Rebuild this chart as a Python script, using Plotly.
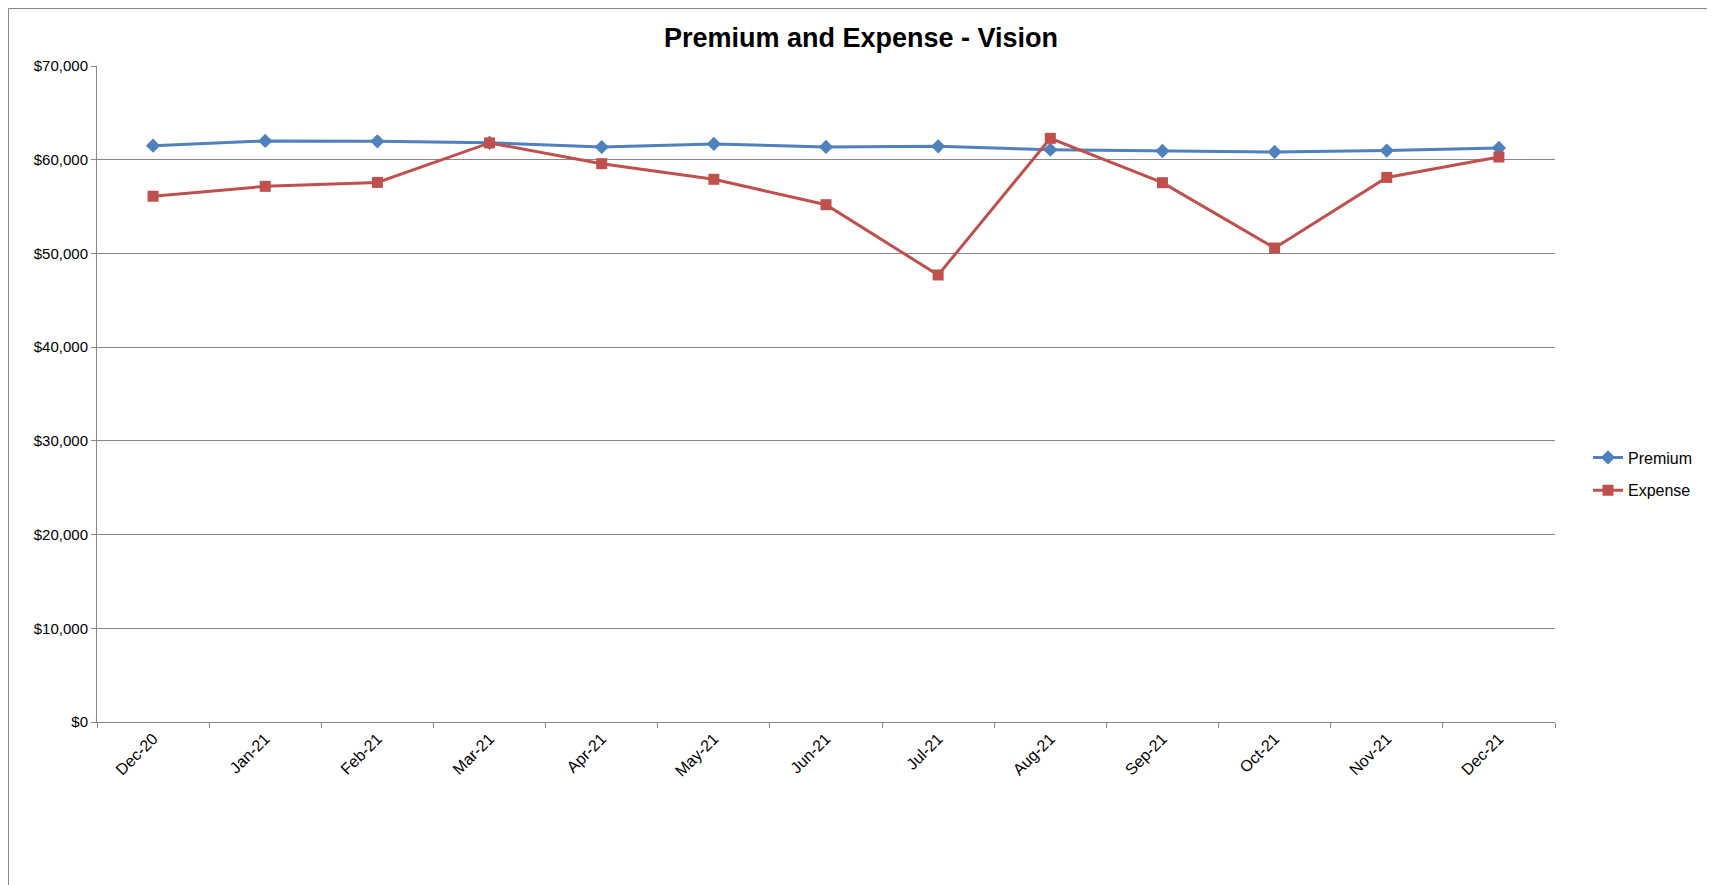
import plotly.graph_objects as go

months = ["Dec-20", "Jan-21", "Feb-21", "Mar-21", "Apr-21", "May-21", "Jun-21",
          "Jul-21", "Aug-21", "Sep-21", "Oct-21", "Nov-21", "Dec-21"]
premium = [61500, 62000, 61960, 61810, 61350, 61680, 61360, 61430, 61070, 60930, 60830, 60970, 61250]
expense = [56100, 57160, 57580, 61790, 59580, 57910, 55200, 47700, 62280, 57550, 50580, 58110, 60290]

FONT = "Liberation Sans Narrow, Liberation Sans, Arial, sans-serif"
W, H = 1715, 885
L, R, T, B = 89, 1547, 58, 714

fig = go.Figure()
fig.add_trace(go.Scatter(
    x=months, y=premium, name="Premium", mode="lines+markers",
    line=dict(color="#4F81BD", width=3),
    marker=dict(symbol="diamond", size=11, color="#4F81BD"),
    legendgroup="a"))
fig.add_trace(go.Scatter(
    x=months, y=expense, name="Expense", mode="lines+markers",
    line=dict(color="#C0504D", width=3),
    marker=dict(symbol="square", size=11, color="#C0504D"),
    legendgroup="b"))

fig.update_layout(
    width=W, height=H,
    margin=dict(l=L, r=W - R, t=T, b=H - B, autoexpand=False),
    paper_bgcolor="white", plot_bgcolor="white",
    font=dict(family=FONT, size=14, color="black"),
    title=dict(text="<b>Premium and Expense - Vision</b>", x=853 / W, xanchor="center",
               y=1 - 30 / H, yanchor="middle",
               font=dict(family=FONT, size=27, color="black")),
    showlegend=True,
    legend=dict(x=(1580 - L) / (R - L), xanchor="left", y=(B - 466) / (B - T), yanchor="middle",
                font=dict(size=16), tracegroupgap=9, bgcolor="rgba(0,0,0,0)"),
    xaxis=dict(type="category", range=[-0.5, len(months) - 0.5], autorange=False,
               showgrid=False, showline=True, linecolor="#868686", linewidth=1,
               ticks="outside", tickson="boundaries", ticklen=5, tickcolor="#868686",
               tickangle=-45, tickfont=dict(size=16), zeroline=False),
    yaxis=dict(range=[0, 70000], dtick=10000, tickprefix="$", tickformat=",",
               showgrid=True, gridcolor="#868686", gridwidth=1,
               showline=True, linecolor="#868686", linewidth=1,
               ticks="outside", ticklen=5, tickcolor="#868686",
               tickfont=dict(size=15), zeroline=False),
    shapes=[dict(type="rect", xref="paper", yref="paper",
                 x0=(0.5 - L) / (R - L), x1=(W + 20 - L) / (R - L),
                 y0=(B - (H + 20)) / (B - T), y1=(B - 0.5) / (B - T),
                 line=dict(color="#868686", width=1), fillcolor="rgba(0,0,0,0)", layer="below")],
)

fig.write_html("out.html")
